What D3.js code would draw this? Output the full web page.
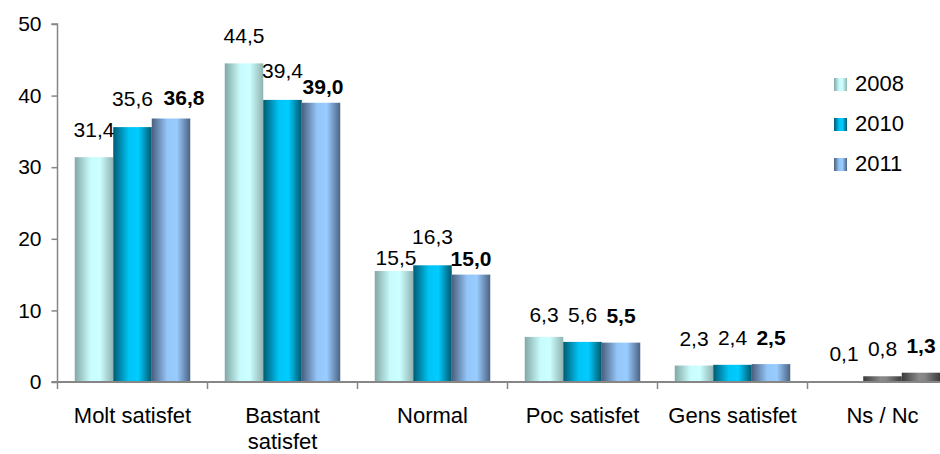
<!DOCTYPE html>
<html>
<head>
<meta charset="utf-8">
<script src="https://cdn.jsdelivr.net/npm/d3@7"></script>
<style>
  html, body { margin: 0; padding: 0; background: #fff; }
  svg { display: block; font-family: "Liberation Sans", Arial, sans-serif; }
</style>
</head>
<body>
<svg id="chart" width="940" height="454"></svg>
<script>
// ---- data ----
const categories = [["Molt satisfet"], ["Bastant", "satisfet"], ["Normal"], ["Poc satisfet"], ["Gens satisfet"], ["Ns / Nc"]];
const series = ["2008", "2010", "2011"];
const values2008 = [31.4, 44.5, 15.5, 6.3, 2.3, 0.1];
const values2010 = [35.6, 39.4, 16.3, 5.6, 2.4, 0.8];
const values2011 = [36.8, 39.0, 15.0, 5.5, 2.5, 1.3];
const yTicks = [0, 10, 20, 30, 40, 50];

// label placement nudges (as placed in the original)
const labelGap = [
  [20, 20, 6, 15, 20, 20],
  [21, 22, 21, 20, 20, 20],
  [14, 9, 9, 20, 19, 20]
];
const labelShiftX = [
  [0, 0, 2, 0, 0, 0],
  [0, 0, 0, 0, 0, 0],
  [13, 2, 0, 0, 0, 0]
];

const allValues = [values2008, values2010, values2011];

const svg = d3.select("#chart");
const plotLeft = 57.5, plotTop = 24, plotBottom = 382;
const step = 150;

const x0 = d3.scaleBand()
  .domain(d3.range(categories.length))
  .range([plotLeft, plotLeft + step * categories.length])
  .paddingInner(0).paddingOuter(0);

const groupPad = 17.25;
const x1 = d3.scaleBand()
  .domain(series)
  .range([groupPad, step - groupPad])
  .padding(0);

const y = d3.scaleLinear().domain([0, 50]).range([plotBottom, plotTop]);

// gradients
const defs = svg.append("defs");
const gradSpecs = {
  g2008: [["0%", "#82a8a6"], ["40%", "#c8fbfb"], ["65%", "#ccffff"], ["100%", "#8fb3b1"]],
  g2010: [["0%", "#005a74"], ["40%", "#00c4f4"], ["65%", "#00ccff"], ["100%", "#00566c"]],
  g2011: [["0%", "#4a5f7e"], ["40%", "#94c6f8"], ["65%", "#99ccff"], ["100%", "#4c6282"]],
  gGray: [["0%", "#3a3a3a"], ["45%", "#8a8a8a"], ["60%", "#858585"], ["100%", "#3c3c3c"]]
};
Object.entries(gradSpecs).forEach(([id, stops]) => {
  const g = defs.append("linearGradient").attr("id", id)
    .attr("x1", "0%").attr("x2", "100%").attr("y1", "0%").attr("y2", "0%");
  stops.forEach(([o, c]) => g.append("stop").attr("offset", o).attr("stop-color", c));
});
const gradIds = ["g2008", "g2010", "g2011"];

// bars
series.forEach((s, si) => {
  svg.append("g").selectAll("rect")
    .data(allValues[si])
    .join("rect")
    .attr("x", (d, i) => x0(i) + x1(s))
    .attr("width", x1.bandwidth())
    .attr("y", d => y(d))
    .attr("height", d => y(0) - y(d))
    .attr("fill", (d, i) => i === categories.length - 1 ? "url(#gGray)" : `url(#${gradIds[si]})`);
});

// axes
const axisColor = "#868686";
const yAxis = d3.axisLeft(y).tickValues(yTicks).tickSize(6).tickPadding(10).tickFormat(d3.format("d"));
const yg = svg.append("g").attr("transform", `translate(${plotLeft},0)`).call(yAxis);
yg.select(".domain").attr("stroke", axisColor).attr("stroke-width", 1.5)
  .attr("d", `M-6,${plotTop}H0V${plotBottom + 7}`);
yg.selectAll(".tick line").attr("stroke", axisColor).attr("stroke-width", 1.5);
yg.selectAll(".tick text").attr("font-size", 21).attr("fill", "#000")
  .attr("font-family", "Liberation Sans, Arial, sans-serif");

// x axis baseline
svg.append("line")
  .attr("x1", plotLeft - 6).attr("x2", 940)
  .attr("y1", y(0)).attr("y2", y(0))
  .attr("stroke", axisColor).attr("stroke-width", 2);

// category boundary ticks
svg.append("g").selectAll("line")
  .data(d3.range(1, categories.length))
  .join("line")
  .attr("x1", i => x0(i)).attr("x2", i => x0(i))
  .attr("y1", y(0)).attr("y2", y(0) + 7)
  .attr("stroke", axisColor).attr("stroke-width", 1.5);

// category labels
const catG = svg.append("g");
categories.forEach((lines, i) => {
  const t = catG.append("text")
    .attr("x", x0(i) + step / 2)
    .attr("y", 423)
    .attr("text-anchor", "middle")
    .attr("font-size", 22)
    .attr("fill", "#000");
  lines.forEach((l, li) => {
    t.append("tspan").attr("x", x0(i) + step / 2).attr("dy", li === 0 ? 0 : 26).text(l);
  });
});

// value labels
const fmt = v => v.toFixed(1).replace(".", ",");
series.forEach((s, si) => {
  svg.append("g").selectAll("text")
    .data(allValues[si])
    .join("text")
    .attr("x", (d, i) => x0(i) + x1(s) + x1.bandwidth() / 2 + labelShiftX[si][i])
    .attr("y", (d, i) => y(d) - labelGap[si][i])
    .attr("text-anchor", "middle")
    .attr("font-size", 21)
    .attr("font-weight", si === 2 ? "bold" : "normal")
    .attr("fill", "#000")
    .text(d => fmt(d));
});

// legend
const legend = svg.append("g");
series.forEach((s, si) => {
  const yy = 91 + si * 40;
  legend.append("rect")
    .attr("x", 834).attr("y", yy - 13).attr("width", 13).attr("height", 13)
    .attr("fill", `url(#${gradIds[si]})`);
  legend.append("text")
    .attr("x", 855).attr("y", yy)
    .attr("font-size", 22).attr("fill", "#000")
    .text(s);
});
</script>
</body>
</html>
